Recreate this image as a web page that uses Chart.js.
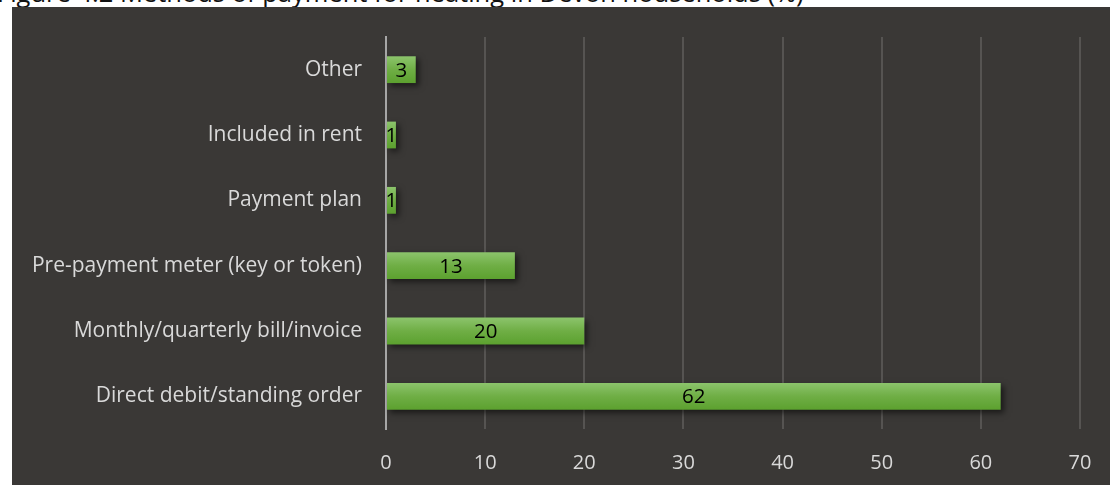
<!DOCTYPE html>
<html>
<head>
<meta charset="utf-8">
<script src="https://cdn.jsdelivr.net/npm/chart.js@4.4.1/dist/chart.umd.min.js"></script>
<style>
  html, body { margin: 0; padding: 0; background: #ffffff; }
  body { width: 1110px; height: 485px; position: relative; overflow: hidden; }
  #title { position: absolute; left: -3px; top: -25px; font: 25.5px "Open Sans", sans-serif; line-height: 34px; color: #111; white-space: nowrap; }
  #wrap { position: absolute; left: 12px; top: 7px; width: 1098px; height: 478px; background: #3a3836; }
</style>
</head>
<body>
<div id="title">Figure 4.2 Methods of payment for heating in Devon households (%)</div>
<div id="wrap"><canvas id="c"></canvas></div>
<script>
const categories = [
  "Other",
  "Included in rent",
  "Payment plan",
  "Pre-payment meter (key or token)",
  "Monthly/quarterly bill/invoice",
  "Direct debit/standing order"
];
const shares = [3, 1, 1, 13, 20, 62];
const xTicks = [0, 10, 20, 30, 40, 50, 60, 70];

const FONT = '"Open Sans", sans-serif';
const BAR_PCT = 0.41;

// soft drop shadow under the bars
const barShadow = {
  id: 'barShadow',
  beforeDatasetsDraw(chart) {
    const ctx = chart.ctx;
    ctx.save();
    ctx.shadowColor = 'rgba(0,0,0,0.55)';
    ctx.shadowBlur = 6;
    ctx.shadowOffsetX = 3;
    ctx.shadowOffsetY = 3;
  },
  afterDatasetsDraw(chart) {
    chart.ctx.restore();
  }
};

// value printed in the middle of each bar
const barValues = {
  id: 'barValues',
  afterDatasetsDraw(chart) {
    const ctx = chart.ctx;
    const meta = chart.getDatasetMeta(0);
    ctx.save();
    ctx.fillStyle = '#000000';
    ctx.font = '20.5px ' + FONT;
    ctx.textAlign = 'center';
    ctx.textBaseline = 'middle';
    meta.data.forEach((bar, i) => {
      const cx = (bar.base + bar.x) / 2;
      ctx.fillText(String(shares[i]), cx, bar.y + 1);
    });
    ctx.restore();
  }
};

// vertical light-to-dark green fill for each bar, placed from the category scale
function barGradient(context) {
  const chart = context.chart;
  const ys = chart.scales && chart.scales.y;
  const area = chart.chartArea;
  if (!ys || !area) return '#6aaa3e';
  const cy = ys.getPixelForValue(context.dataIndex);
  const half = (area.height / categories.length) * BAR_PCT / 2;
  const g = chart.ctx.createLinearGradient(0, cy - half, 0, cy + half);
  g.addColorStop(0, '#8cc46c');
  g.addColorStop(0.5, '#6fae45');
  g.addColorStop(1, '#5ca12f');
  return g;
}

new Chart(document.getElementById('c').getContext('2d'), {
  type: 'bar',
  data: {
    labels: categories,
    datasets: [{
      data: shares,
      backgroundColor: barGradient,
      borderWidth: 0,
      barPercentage: BAR_PCT,
      categoryPercentage: 1.0
    }]
  },
  plugins: [barShadow, barValues],
  options: {
    indexAxis: 'y',
    responsive: true,
    maintainAspectRatio: false,
    animation: false,
    layout: { padding: { top: 30, right: 30, left: 0, bottom: 0 } },
    plugins: { legend: { display: false }, tooltip: { enabled: false } },
    scales: {
      x: {
        min: 0, max: 70,
        afterBuildTicks(scale) { scale.ticks = xTicks.map(v => ({ value: v })); },
        afterFit(scale) { scale.height = 56; scale.paddingLeft = 0; scale.paddingRight = 0; },
        ticks: { color: '#d9d9d9', font: { family: FONT, size: 20 }, padding: 22 },
        grid: { color: '#565452', lineWidth: 2, drawTicks: false },
        border: { display: false }
      },
      y: {
        afterFit(scale) { scale.width = 374; scale.paddingTop = 0; scale.paddingBottom = 0; },
        ticks: { color: '#d9d9d9', font: { family: FONT, size: 21 }, padding: 24 },
        grid: { display: false, drawTicks: false },
        border: { display: true, color: '#a6a6a6', width: 2 }
      }
    }
  }
});
</script>
</body>
</html>
